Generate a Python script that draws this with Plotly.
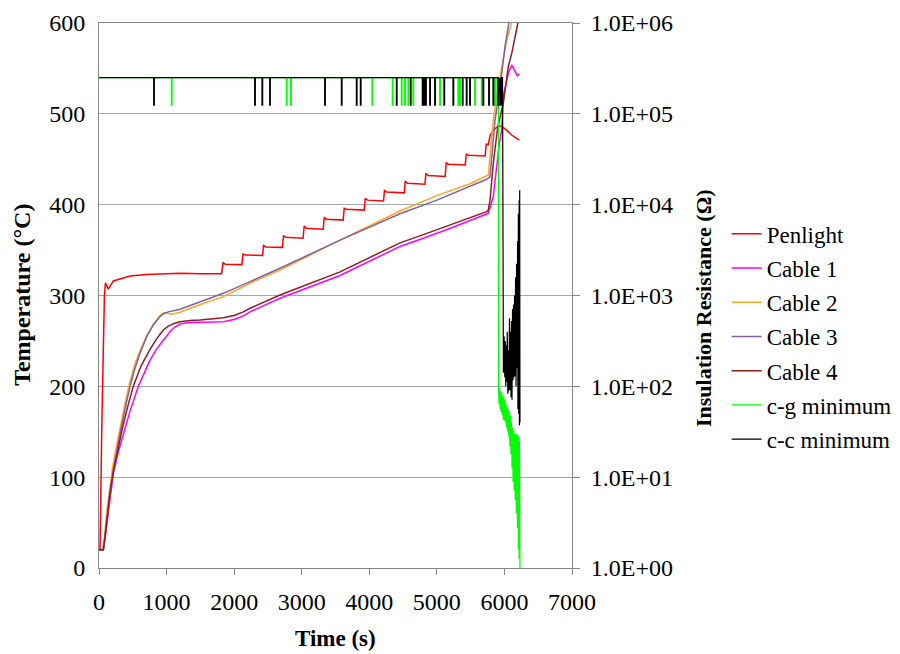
import plotly.graph_objects as go

# ---------------- data ----------------
# Temperature traces (time in s, temperature in deg C)
pen_t = [0, 15, 40, 80, 95, 138, 212, 459, 706, 1199, 1500, 1815,
         1835, 1870, 2115,
         2130, 2165, 2420,
         2435, 2470, 2715,
         2730, 2765, 3020,
         3037, 3070, 3318,
         3333, 3366, 3614,
         3629, 3662, 3925,
         3940, 3973, 4210,
         4225, 4258, 4517,
         4532, 4565, 4823,
         4838, 4871, 5123,
         5138, 5171, 5420,
         5435, 5468, 5715,
         5730, 5760, 5790, 5835, 5909, 5960, 6033, 6108, 6220]
pen_T = [20, 20, 150, 300, 314, 307, 316, 321.5, 323, 324.4, 324, 324,
         336, 334.5, 334,
         345.5, 344.5, 344,
         355, 353.5, 353,
         366, 364, 363,
         376.5, 374, 373,
         386, 384, 383,
         396, 395, 394,
         407, 405, 404,
         415.5, 414, 413,
         426, 423.5, 422.5,
         434.5, 432, 431,
         446, 444.5, 443.7,
         455.5, 454.5, 453.6,
         466.5, 466, 476.7, 482, 486.6, 486, 482, 476.7, 471]

c1_t = [0, 64, 90, 120, 160, 212, 280, 350, 460, 582, 660, 750, 850, 952, 1050,
        1120, 1199, 1300, 1500, 1700, 1840, 2000, 2136, 2235, 2679, 3567, 4455,
        4800, 5200, 5738, 5761, 5835, 5886, 5925, 5960, 5984, 6030, 6057, 6108,
        6157, 6191, 6220]
c1_T = [20, 20, 33, 52, 78, 104, 126, 145, 173, 200, 214, 228, 241, 251, 260,
        265, 268.5, 270, 270.3, 270.5, 271, 273.5, 277.5, 282, 297, 322, 354,
        363, 374, 389.7, 390.6, 409, 445.6, 467.6, 482, 520, 535, 544.6, 553.8,
        546.4, 542, 544]

c2_t = [0, 55, 80, 110, 155, 200, 260, 320, 385, 450, 520, 600, 706, 800, 903,
        960, 1000, 1060, 1120, 1199, 1350, 1500, 1840, 2235, 2679, 3567, 4455,
        5000, 5491, 5761, 5835, 5909, 6033, 6123, 6150]
c2_T = [20, 20, 33, 58, 85, 110, 135, 158, 181, 203, 222, 238, 256, 268, 278,
        281, 281, 279.5, 280, 281.5, 286, 290, 298.7, 313.5, 328, 361, 393,
        410, 423, 432.7, 493, 530, 581, 603, 612]

c3_t = [0, 64, 90, 114, 160, 212, 270, 330, 400, 459, 530, 600, 706, 800, 903,
        960, 1026, 1100, 1199, 1350, 1500, 1840, 2235, 2679, 3567, 4455, 5000,
        5491, 5738, 5787, 5861, 5935, 6009, 6072, 6100]
c3_T = [20, 20, 35, 53, 80, 108, 132, 155, 180, 200, 219, 235, 254.7, 267, 276.7,
        280, 282, 283.5, 284.8, 289, 293, 302.4, 315.3, 330, 361, 390, 405,
        419.8, 428, 430.8, 493, 530, 574, 603, 620]

c4_t = [0, 64, 90, 120, 160, 212, 280, 350, 430, 508, 620, 750, 850, 952, 1020,
        1100, 1199, 1350, 1500, 1840, 2000, 2136, 2235, 2679, 3567, 4455, 4800,
        5200, 5738, 5761, 5787, 5835, 5861, 5900, 5984, 6057, 6108, 6157, 6206,
        6240]
c4_T = [20, 20, 35, 58, 82, 106, 132, 155, 179, 200, 222, 240, 252, 262, 266,
        269, 271, 272.5, 273, 275.5, 278, 282, 286, 300.6, 326, 358, 367,
        378, 392.3, 394, 405, 445.6, 462, 485, 512, 552, 566.6, 585, 603,
        615]

# Insulation resistance (ohm)
ir_base = 2.5e5          # level before failure
ir_dip = 1.25e5          # level of the short dips
cg_dip_t = [1076, 2778, 2841, 4045, 4346, 4480, 4529, 4578, 4652, 5047, 5318,
            5343, 5565, 5664, 5861, 5895]
cc_dip_t = [814, 2309, 2417, 2531, 3345, 3592, 3814, 3873, 4406, 4613, 4790,
            4815, 4839, 4899, 4973, 5110, 5244, 5382, 5441, 5491, 5688, 5772,
            5836, 5910, 5920, 5930, 5940, 5950, 5960]
cg_fail_t = [5910, 5912, 5920, 5928, 5936, 5944, 5952, 5960, 5968, 5976, 5984,
             5992, 6000, 6008, 6016, 6024, 6032, 6040, 6048, 6056, 6064, 6072,
             6080, 6088, 6096, 6104, 6112, 6120, 6128, 6136, 6144, 6152, 6160,
             6168, 6176, 6184, 6192, 6200, 6206, 6212, 6218, 6224, 6230]
cg_fail_R = [2.5e5, 100, 63, 95, 56, 89, 52, 85, 48, 79, 43,
             76, 42, 71, 40, 63, 35, 60, 32, 56, 28, 52,
             22, 48, 18, 40, 12.6, 35, 8.9, 32, 7.1, 30, 5.6,
             30, 4.0, 29.5, 2.8, 29, 1.6, 28, 1.26, 25, 1.0]
cc_fail_t = [5972, 5975, 5985, 5995, 6005, 6012, 6020, 6028, 6035, 6042, 6050,
             6058, 6065, 6075, 6083, 6090, 6098, 6105, 6112, 6120, 6128, 6135,
             6143, 6150, 6158, 6165, 6172, 6180, 6188, 6195, 6200, 6206, 6212,
             6218, 6222, 6226, 6230]
cc_fail_R = [2.5e5, 417, 141, 355, 126, 316, 100, 282, 112, 398, 83,
             251, 89, 562, 91, 398, 76, 525, 71, 708, 117, 794,
             126, 1000, 129, 1585, 100, 2239, 158, 3981, 56, 7943, 50,
             11220, 37, 14450, 40]

x_ticks = [0, 1000, 2000, 3000, 4000, 5000, 6000, 7000]
y_ticks = [0, 100, 200, 300, 400, 500, 600]
ir_ticks = [1, 10, 100, 1000, 10000, 100000, 1000000]
ir_ticktext = ["1.0E+00", "1.0E+01", "1.0E+02", "1.0E+03", "1.0E+04", "1.0E+05", "1.0E+06"]


def ir_series(dips, fail_t, fail_R):
    t, r = [0], [ir_base]
    for d in dips:
        t += [d - 5, d - 5, d + 5, d + 5]
        r += [ir_base, ir_dip, ir_dip, ir_base]
    return t + fail_t, r + fail_R


cg_t, cg_R = ir_series(cg_dip_t, cg_fail_t, cg_fail_R)
cc_t, cc_R = ir_series(cc_dip_t, cc_fail_t, cc_fail_R)

# ---------------- figure ----------------
FONT = "Liberation Serif"
GRAY = "#868686"
GRID = "#a6a6a6"

fig = go.Figure()
temp_series = [
    ("Penlight", pen_t, pen_T, "#FF0000"),
    ("Cable 1", c1_t, c1_T, "#FF00FF"),
    ("Cable 2", c2_t, c2_T, "#FFA526"),
    ("Cable 3", c3_t, c3_T, "#7F62A2"),
    ("Cable 4", c4_t, c4_T, "#8B1E1E"),
]
for name, t, T, col in temp_series:
    fig.add_trace(go.Scatter(x=t, y=T, name=name, mode="lines", legendgroup=name,
                             line=dict(color=col, width=1.5), yaxis="y"))
fig.add_trace(go.Scatter(x=cg_t, y=cg_R, name="c-g minimum", mode="lines",
                         legendgroup="cg",
                         line=dict(color="#00FF00", width=1.2), yaxis="y2"))
fig.add_trace(go.Scatter(x=cc_t, y=cc_R, name="c-c minimum", mode="lines",
                         legendgroup="cc",
                         line=dict(color="#000000", width=1.2), yaxis="y2"))

# the page body adds an 8px offset, so the figure is drawn 892x646
fig.update_layout(
    template="none",
    width=892, height=646,
    margin=dict(l=91, r=328, t=15, b=86, autoexpand=False),
    paper_bgcolor="white", plot_bgcolor="white",
    font=dict(family=FONT, size=24, color="black"),
    legend=dict(x=1.327, xanchor="left", y=0.424, yanchor="middle",
                font=dict(family=FONT, size=23, color="black"),
                tracegroupgap=1.3,
                bgcolor="rgba(0,0,0,0)", borderwidth=0),
    xaxis=dict(range=[0, 7000], tickvals=x_ticks, ticks="outside", ticklen=6,
               tickcolor=GRAY, showline=True, linecolor=GRAY, linewidth=1,
               mirror=True, showgrid=False, zeroline=False, automargin=False,
               ticklabelstandoff=6),
    yaxis=dict(range=[0, 600], tickvals=y_ticks, showgrid=True, gridcolor=GRID,
               gridwidth=1, showline=True, linecolor=GRAY, linewidth=1,
               zeroline=False, ticks="", automargin=False, ticklabelstandoff=8),
    yaxis2=dict(type="log", range=[0, 6], overlaying="y", side="right",
                tickvals=ir_ticks, ticktext=ir_ticktext, showgrid=False,
                showline=True, linecolor=GRAY, linewidth=1, ticks="outside",
                ticklen=7, tickcolor=GRAY, zeroline=False, automargin=False,
                ticklabelstandoff=6),
    annotations=[
        dict(text="<b>Temperature (°C)</b>", xref="paper", yref="paper",
             x=-0.163, y=0.501, xanchor="center", yanchor="middle",
             textangle=-90, showarrow=False, font=dict(family=FONT, size=24)),
        dict(text="<b>Insulation Resistance (Ω)</b>", xref="paper", yref="paper",
             x=1.277, y=0.477, xanchor="center", yanchor="middle",
             textangle=-90, showarrow=False, font=dict(family=FONT, size=22)),
        dict(text="<b>Time (s)</b>", xref="paper", yref="paper",
             x=0.499, y=-0.130, xanchor="center", yanchor="middle",
             showarrow=False, font=dict(family=FONT, size=23)),
    ],
)

fig.write_html("out.html")
